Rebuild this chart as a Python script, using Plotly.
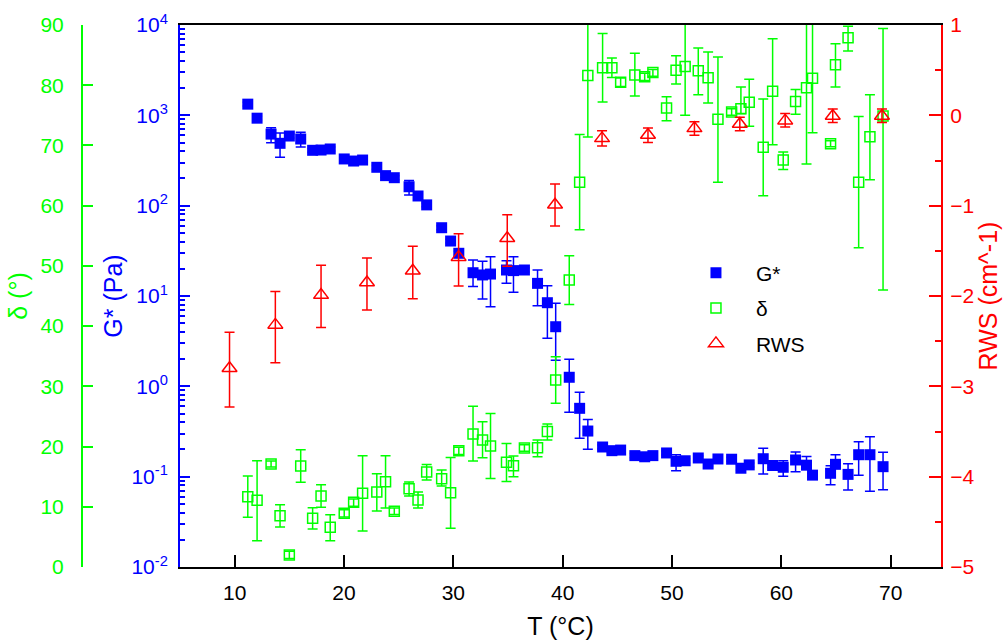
import plotly.graph_objects as go

# ---------------- data ----------------
T = [11.2, 12.05, 13.33, 14.15, 15.0, 16.04, 17.13, 17.9, 18.74, 20.02,
     20.88, 21.7, 23.0, 23.8, 24.6, 25.95, 26.77, 27.56, 28.93, 29.75,
     30.5, 31.8, 32.67, 33.4, 34.86, 35.5, 36.5, 37.7, 38.6, 39.36,
     40.6, 41.55, 42.3, 43.65, 44.5, 45.3, 46.6, 47.5, 48.25, 49.5,
     50.37, 51.2, 52.4, 53.3, 54.2, 55.45, 56.3, 57.06, 58.34, 59.2,
     60.17, 61.3, 62.3, 62.85, 64.5, 64.95, 66.1, 67.07, 68.1, 69.3]

G = [1330, 930, 620, 490, 590, 547, 410, 413, 424, 329,
     312, 320, 266, 215, 204, 162, 128, 102, 57, 40.6,
     29.7, 18.1, 17.1, 17.5, 19.4, 19.1, 19.4, 13.8, 8.43, 4.57,
     1.26, 0.571, 0.32, 0.213, 0.194, 0.197, 0.171, 0.166, 0.171, 0.183,
     0.148, 0.150, 0.161, 0.138, 0.157, 0.156, 0.124, 0.135, 0.158, 0.133,
     0.127, 0.153, 0.134, 0.104, 0.109, 0.137, 0.106, 0.175, 0.175, 0.129]

G_hi = [1400, 980, 730, 637, 620, 650, 430, 433, 445, 345,
        327, 336, 279, 226, 214, 190, 134, 107, 60, 42.6,
        31.2, 25.0, 24.2, 27.2, 24.6, 27.2, 20.4, 19.4, 13.0, 8.3,
        1.99, 0.86, 0.43, 0.224, 0.204, 0.207, 0.18, 0.174, 0.18, 0.192,
        0.175, 0.158, 0.169, 0.145, 0.165, 0.164, 0.135, 0.142, 0.206, 0.14,
        0.150, 0.187, 0.167, 0.109, 0.132, 0.175, 0.139, 0.244, 0.277, 0.186]

G_lo = [1270, 885, 498, 343, 560, 446, 390, 393, 403, 313,
        297, 304, 253, 205, 194, 131, 122, 97, 54, 38.6,
        28.2, 12.7, 9.27, 7.6, 13.8, 11.0, 18.4, 7.8, 3.4, 1.95,
        0.515, 0.266, 0.201, 0.202, 0.184, 0.187, 0.162, 0.158, 0.162, 0.174,
        0.116, 0.142, 0.153, 0.131, 0.149, 0.148, 0.118, 0.128, 0.107, 0.126,
        0.101, 0.1135, 0.127, 0.099, 0.0815, 0.130, 0.0711, 0.104, 0.0689, 0.0718]

delta = [11.67, 11.1, 17.1, 8.52, 1.99, 16.77, 8.09, 11.79, 6.59, 8.91,
         10.74, 12.24, 12.45, 14.17, 9.25, 13.0, 11.13, 15.78, 14.66, 12.34,
         19.3, 22.1, 21.1, 20.1, 17.4, 16.8, 19.76, 19.8, 22.5, 31.05,
         47.66, 63.9, 81.6, 82.9, 82.9, 80.5, 81.7, 81.4, 82.1, 76.2,
         82.5, 83.1, 82.4, 81.25, 74.34, 75.56, 76.1, 77.17, 69.7, 79.0,
         67.6, 77.3, 79.6, 81.15, 70.3, 83.4, 87.9, 63.9, 71.45, 74.9]

delta_hi = [15.1, 17.65, 17.6, 10.35, 2.6, 19.48, 9.85, 13.67, 8.68, 9.5,
            11.3, 18.48, 15.5, 18.48, 9.8, 14.1, 12.45, 17.0, 16.1, 18.2,
            19.9, 26.7, 24.1, 25.5, 20.5, 18.43, 20.3, 21.1, 23.75, 34.9,
            51.7, 71.8, 91.7, 88.6, 84.5, 81.2, 85.3, 82.0, 82.6, 78.1,
            84.9, 91.2, 86.2, 85.5, 84.7, 76.1, 79.7, 80.99, 77.7, 87.7,
            68.9, 79.3, 92.3, 90.2, 70.8, 86.9, 89.8, 74.8, 78.4, 89.4]

delta_lo = [8.25, 4.37, 16.6, 6.64, 1.4, 14.07, 6.31, 9.91, 4.37, 8.3,
            10.1, 5.98, 9.3, 9.8, 8.7, 11.8, 9.8, 14.45, 13.45, 6.43,
            18.7, 17.6, 18.15, 14.7, 14.2, 15.0, 19.2, 18.3, 21.1, 27.2,
            43.6, 56.0, 71.4, 77.2, 81.3, 79.8, 78.2, 80.8, 81.5, 74.1,
            80.2, 75.0, 78.4, 77.05, 63.9, 75.0, 75.3, 73.2, 61.66, 70.1,
            66.0, 75.2, 66.9, 72.1, 69.8, 79.7, 85.7, 53.0, 64.3, 46.0]

T_rws = [9.53, 13.72, 17.9, 22.1, 26.29, 30.48, 34.93, 39.3,
         43.6, 47.8, 52.05, 56.2, 60.35, 64.7, 69.2]
rws = [-2.80, -2.32, -1.99, -1.85, -1.72, -1.57, -1.36, -0.99,
       -0.255, -0.218, -0.144, -0.096, -0.059, -0.007, -0.007]
rws_hi = [-2.40, -1.95, -1.66, -1.58, -1.45, -1.31, -1.10, -0.76,
          -0.17, -0.14, -0.07, -0.02, 0.02, 0.07, 0.07]
rws_lo = [-3.23, -2.74, -2.35, -2.155, -2.03, -1.89, -1.67, -1.225,
          -0.34, -0.30, -0.22, -0.17, -0.13, -0.08, -0.08]

x_ticks = [10, 20, 30, 40, 50, 60, 70]
g_tickvals = [0.01, 0.1, 1, 10, 100, 1000, 10000]
g_ticktext = ["10<sup>-2</sup>", "10<sup>-1</sup>", "10<sup>0</sup>", "10<sup>1</sup>",
              "10<sup>2</sup>", "10<sup>3</sup>", "10<sup>4</sup>"]
g_minor = [m * 10 ** e for e in range(-2, 4) for m in range(2, 10)]

# ---------------- figure ----------------
W, H = 1005, 643
BLUE, GREEN, RED = "#0000ff", "#00ff00", "#ff0000"
FONT = "Liberation Sans, Arial, sans-serif"

fig = go.Figure()
fig.add_trace(go.Scatter(
    x=T, y=G, mode="markers", name="G*", legendgroup="g1",
    marker=dict(symbol="square", size=11, color=BLUE, line=dict(width=0)),
    error_y=dict(type="data", symmetric=False,
                 array=[h - v for h, v in zip(G_hi, G)],
                 arrayminus=[v - l for v, l in zip(G, G_lo)],
                 color=BLUE, thickness=1.5, width=5),
    yaxis="y"))
fig.add_trace(go.Scatter(
    x=T, y=delta, mode="markers", name="δ", legendgroup="g2", cliponaxis=False,
    marker=dict(symbol="square-open", size=10, color=GREEN, line=dict(width=1.5, color=GREEN)),
    error_y=dict(type="data", symmetric=False,
                 array=[h - v for h, v in zip(delta_hi, delta)],
                 arrayminus=[v - l for v, l in zip(delta, delta_lo)],
                 color=GREEN, thickness=1.5, width=5),
    yaxis="y2"))
fig.add_trace(go.Scatter(
    x=T_rws, y=rws, mode="markers", name="RWS", legendgroup="g3",
    marker=dict(symbol="triangle-up-open", size=13, color=RED, line=dict(width=1.5, color=RED)),
    error_y=dict(type="data", symmetric=False,
                 array=[h - v for h, v in zip(rws_hi, rws)],
                 arrayminus=[v - l for v, l in zip(rws, rws_lo)],
                 color=RED, thickness=1.5, width=5),
    yaxis="y3"))

fig.update_layout(
    width=W, height=H,
    margin=dict(l=0, r=0, t=25, b=76),
    paper_bgcolor="white", plot_bgcolor="white",
    font=dict(family=FONT, size=21, color="black"),
    showlegend=True,
    legend=dict(x=0.6726, y=0.58, xanchor="left", yanchor="top",
                bgcolor="rgba(0,0,0,0)", font=dict(size=21, color="black"),
                tracegroupgap=5, itemwidth=70),
    xaxis=dict(domain=[180 / W, 941 / W], range=[5, 74.6],
               tickmode="array", tickvals=x_ticks,
               ticks="inside", ticklen=12, tickwidth=2, tickcolor="black",
               showline=True, linecolor="black", linewidth=2, mirror=True,
               showgrid=False, zeroline=False, automargin=False,
               ticklabelstandoff=6,
               tickfont=dict(size=21, color="black"),
               title=dict(text="T (°C)", font=dict(size=25, color="black"), standoff=14)),
    yaxis=dict(type="log", range=[-2, 4], anchor="x", side="left",
               tickmode="array", tickvals=g_tickvals, ticktext=g_ticktext,
               ticks="inside", ticklen=10, tickwidth=2, tickcolor=BLUE,
               minor=dict(tickmode="array", tickvals=g_minor, ticks="inside",
                          ticklen=5, tickwidth=2, tickcolor=BLUE, showgrid=False),
               showline=True, linecolor=BLUE, linewidth=2,
               showgrid=False, zeroline=False, automargin=False,
               ticklabelstandoff=6,
               tickfont=dict(size=21, color=BLUE),
               title=dict(text="G* (Pa)", font=dict(size=25, color=BLUE), standoff=2)),
    yaxis2=dict(overlaying="y", anchor="free", position=82 / W, side="left",
                range=[0, 90], tickmode="linear", tick0=0, dtick=10,
                ticks="inside", ticklen=10, tickwidth=2, tickcolor=GREEN,
                showline=True, linecolor=GREEN, linewidth=2,
                showgrid=False, zeroline=False, automargin=False,
                ticklabelstandoff=13,
                tickfont=dict(size=21, color=GREEN),
                title=dict(text="δ (°)", font=dict(size=25, color=GREEN), standoff=5)),
    yaxis3=dict(overlaying="y", anchor="x", side="right",
                range=[-5, 1], tickmode="linear", tick0=0, dtick=1,
                ticks="inside", ticklen=12, tickwidth=2, tickcolor=RED,
                minor=dict(dtick=0.5, ticks="inside", ticklen=6, tickwidth=2,
                           tickcolor=RED, showgrid=False),
                showline=True, linecolor=RED, linewidth=2,
                showgrid=False, zeroline=False, automargin=False,
                ticklabelstandoff=3,
                tickfont=dict(size=21, color=RED),
                title=dict(text="RWS (cm^-1)", font=dict(size=25, color=RED), standoff=6)),
)

fig.write_html("out.html")
